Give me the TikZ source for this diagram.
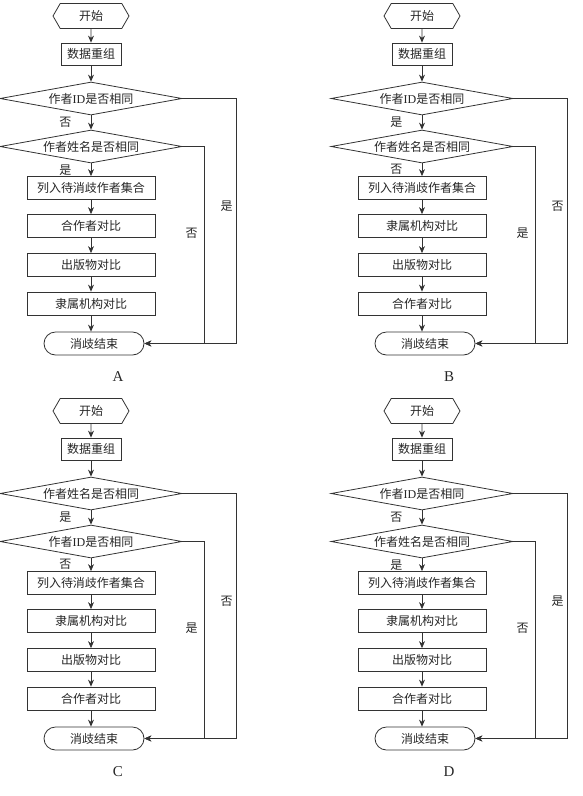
\documentclass[tikz,border=0pt]{standalone}
\usepackage{fontspec}
\setmainfont{Liberation Serif}
\newfontfamily\cjk{Noto Sans CJK SC}
\usetikzlibrary{positioning, arrows.meta, shapes.geometric, shapes.misc, shapes.symbols}

\begin{document}
\begin{tikzpicture}[x=1pt, y=-1pt,
      every node/.style={font=\cjk\fontsize{12}{14}\selectfont, text=black!85},
      startbox/.style={signal, signal to=west and east, signal pointer angle=120, draw=black!80,
        line width=0.8pt, minimum width=76pt, minimum height=25pt, inner sep=0pt},
      box/.style={rectangle, draw=black!80, line width=0.8pt, minimum width=128pt,
        minimum height=23pt, inner sep=0pt},
      decision/.style={diamond, aspect=5, draw=black!80, line width=0.8pt,
        minimum width=182pt, minimum height=33pt, inner sep=0pt},
      endbox/.style={rounded rectangle, draw=black!80, line width=0.8pt,
        minimum width=100pt, minimum height=23pt, inner sep=0pt},
      flow/.style={-{Stealth[length=7pt, width=6pt]}, draw=black!80, line width=0.8pt}
  ]
  \useasboundingbox (0,0) rectangle (583,796);

  \foreach \px/\py/\dA/\dB/\yA/\yB/\nA/\nB/\bA/\bB/\bC/\pname in {
      0/0/作者{\rmfamily ID}是否相同/作者姓名是否相同/否/是/是/否/合作者对比/出版物对比/隶属机构对比/A,
      331/0/作者{\rmfamily ID}是否相同/作者姓名是否相同/是/否/否/是/隶属机构对比/出版物对比/合作者对比/B,
      0/395/作者姓名是否相同/作者{\rmfamily ID}是否相同/是/否/否/是/隶属机构对比/出版物对比/合作者对比/C,
      331/395/作者{\rmfamily ID}是否相同/作者姓名是否相同/否/是/是/否/隶属机构对比/出版物对比/合作者对比/D} {
    \begin{scope}[shift={(\px,\py)}]
      \node[startbox] (s\pname) at (91,16) {开始};
      \node[box, minimum width=60pt, minimum height=22pt] (r\pname) at (91,54) {数据重组};
      \node[decision] (da\pname) at (91,98.5) {\dA};
      \node[decision] (db\pname) at (91,146.5) {\dB};
      \node[box] (b0\pname) at (91,188) {列入待消歧作者集合};
      \node[box] (b1\pname) at (91,226) {\bA};
      \node[box] (b2\pname) at (91,265) {\bB};
      \node[box] (b3\pname) at (91,303.5) {\bC};
      \node[endbox] (e\pname) at (94,343.5) {消歧结束};
      \node[font=\fontsize{15}{17}\selectfont\rmfamily] (cap\pname) at (118,377) {\pname};

      % main line
      \draw[flow] (s\pname) -- (r\pname);
      \draw[flow] (r\pname) -- (da\pname);
      \draw[flow] (da\pname) -- node[left=16pt] {\yA} (db\pname);
      \draw[flow] (db\pname) -- node[left=16pt] {\yB} (b0\pname);
      \draw[flow] (b0\pname) -- (b1\pname);
      \draw[flow] (b1\pname) -- (b2\pname);
      \draw[flow] (b2\pname) -- (b3\pname);
      \draw[flow] (b3\pname) -- (b3\pname.south |- e\pname.north);

      % side branches
      \draw[flow] (da\pname.east) -- ++(54,0) |- node[pos=0.22, left=0pt] {\nA} (e\pname.east);
      \draw[flow] (db\pname.east) -- ++(22,0) |- node[pos=0.22, left=3pt] {\nB} (e\pname.east);
    \end{scope}
  }
\end{tikzpicture}
\end{document}
